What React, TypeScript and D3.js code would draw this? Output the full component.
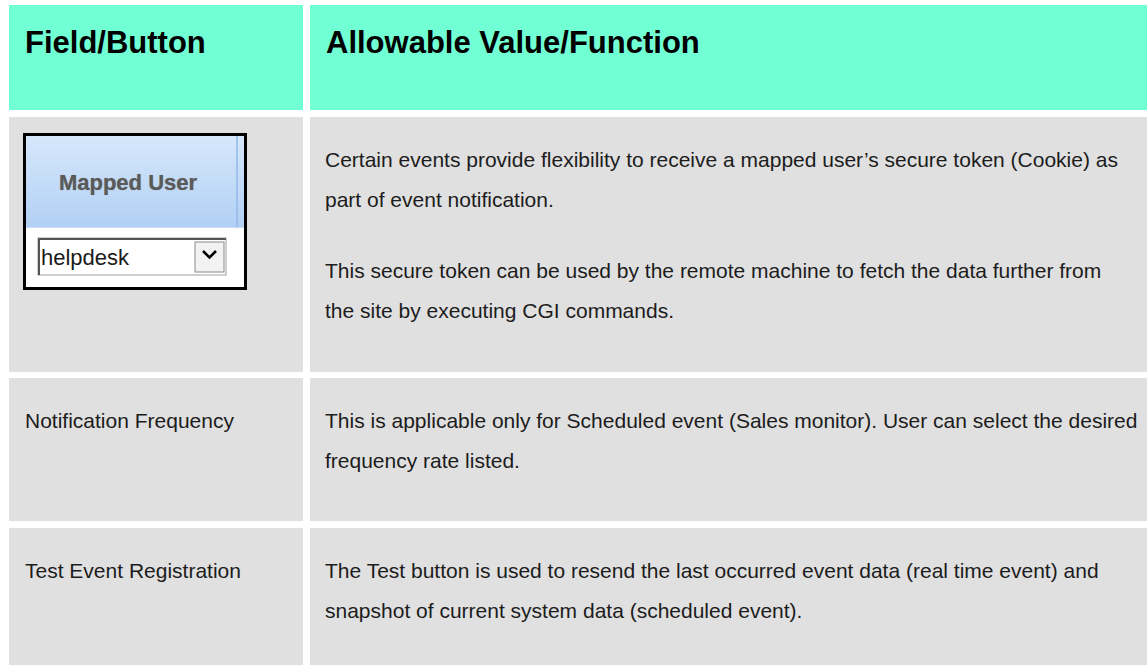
import React, { useEffect, useRef } from "react";
import * as d3 from "d3";

const W = 1147;
const H = 665;

const headers = ["Field/Button", "Allowable Value/Function"];
const fieldLabels = ["", "Notification Frequency", "Test Event Registration"];
const descParagraphs: string[][][] = [
  [
    [
      "Certain events provide flexibility to receive a mapped user\u2019s secure token (Cookie) as",
      "part of event notification.",
    ],
    [
      "This secure token can be used by the remote machine to fetch the data further from",
      "the site by executing CGI commands.",
    ],
  ],
  [
    [
      "This is applicable only for Scheduled event (Sales monitor). User can select the desired",
      "frequency rate listed.",
    ],
  ],
  [
    [
      "The Test button is used to resend the last occurred event data (real time event) and",
      "snapshot of current system data (scheduled event).",
    ],
  ],
];
const widgetHeader = "Mapped User";
const widgetValue = "helpdesk";

// layout
const colEdges = [9, 303, 310, 1147];
const headerBand = [5, 110];
const rowBands: [number, number][] = [
  [117, 372],
  [378, 521],
  [528, 680],
];

export default function App() {
  const ref = useRef<SVGSVGElement>(null);
  useEffect(() => {
    const svg = d3.select(ref.current);
    svg.selectAll("*").remove();
    const font = "'Liberation Sans', Arial, sans-serif";

    svg.append("rect").attr("width", W).attr("height", H).attr("fill", "#ffffff");

    const cols = [
      { x0: colEdges[0], x1: colEdges[1] },
      { x0: colEdges[2], x1: colEdges[3] },
    ];

    // header
    const hg = svg.append("g");
    hg.selectAll("rect")
      .data(headers)
      .join("rect")
      .attr("x", (_, i) => cols[i].x0)
      .attr("y", headerBand[0])
      .attr("width", (_, i) => cols[i].x1 - cols[i].x0)
      .attr("height", headerBand[1] - headerBand[0])
      .attr("fill", "#71FFD4");
    hg.selectAll("text")
      .data(headers)
      .join("text")
      .attr("x", (_, i) => cols[i].x0 + 16)
      .attr("y", headerBand[0] + 48)
      .attr("font-family", font)
      .attr("font-weight", "bold")
      .attr("font-size", 31)
      .attr("fill", "#000")
      .text((d) => d);

    // rows
    const lineH = 40;
    const paraGap = 71;
    rowBands.forEach((band, r) => {
      const g = svg.append("g");
      cols.forEach((c) => {
        g.append("rect")
          .attr("x", c.x0)
          .attr("y", band[0])
          .attr("width", c.x1 - c.x0)
          .attr("height", band[1] - band[0])
          .attr("fill", "#E0E0E0");
      });
      const base = band[0] + 50;
      if (fieldLabels[r]) {
        g.append("text")
          .attr("x", cols[0].x0 + 16)
          .attr("y", base)
          .attr("font-family", font)
          .attr("font-size", 21)
          .attr("fill", "#1c1c1c")
          .text(fieldLabels[r]);
      }
      let y = base;
      descParagraphs[r].forEach((para, pi) => {
        if (pi > 0) y += paraGap - lineH;
        para.forEach((line) => {
          g.append("text")
            .attr("x", cols[1].x0 + 15)
            .attr("y", y)
            .attr("font-family", font)
            .attr("font-size", 21)
            .attr("fill", "#1c1c1c")
            .text(line);
          y += lineH;
        });
      });
    });

    // Mapped User widget
    const wg = svg.append("g");
    const bx0 = 23, by0 = 133, bx1 = 247, by1 = 290, blueBottom = 227;
    const defs = svg.append("defs");
    const grad = defs.append("linearGradient").attr("id", "blueg").attr("x1", 0).attr("x2", 0).attr("y1", 0).attr("y2", 1);
    grad.append("stop").attr("offset", "0%").attr("stop-color", "#d7e8fb");
    grad.append("stop").attr("offset", "100%").attr("stop-color", "#b2d0f5");
    wg.append("rect").attr("x", bx0).attr("y", by0).attr("width", bx1 - bx0).attr("height", by1 - by0).attr("fill", "#ffffff");
    wg.append("rect").attr("x", bx0).attr("y", by0).attr("width", bx1 - bx0).attr("height", blueBottom - by0).attr("fill", "url(#blueg)");
    wg.append("line").attr("x1", 237).attr("x2", 237).attr("y1", by0).attr("y2", blueBottom).attr("stroke", "#93b9e8").attr("stroke-width", 1.5);
    wg.append("line").attr("x1", bx0).attr("x2", bx1).attr("y1", blueBottom + 0.5).attr("y2", blueBottom + 0.5).attr("stroke", "#c9dcf3").attr("stroke-width", 1);
    wg.append("text")
      .attr("x", 128)
      .attr("y", 190)
      .attr("text-anchor", "middle")
      .attr("font-family", font)
      .attr("font-weight", "bold")
      .attr("font-size", 22)
      .attr("fill", "#5a5a5a")
      .attr("style", "text-shadow: 0 0 1px #8a8a8a")
      .text(widgetHeader);
    // select box
    const sx0 = 38, sy0 = 238, sx1 = 226, sy1 = 275;
    wg.append("rect").attr("x", sx0).attr("y", sy0).attr("width", sx1 - sx0).attr("height", sy1 - sy0).attr("fill", "#ffffff").attr("stroke", "#a0a0a0").attr("stroke-width", 1);
    wg.append("path").attr("d", `M${sx0 + 1},${sy1} V${sy0 + 1} H${sx1}`).attr("fill", "none").attr("stroke", "#555").attr("stroke-width", 2);
    wg.append("text")
      .attr("x", 41)
      .attr("y", 265)
      .attr("font-family", font)
      .attr("font-size", 22)
      .attr("fill", "#1a1a1a")
      .text(widgetValue);
    // dropdown button
    wg.append("rect").attr("x", 195).attr("y", 242).attr("width", 29).attr("height", 30).attr("fill", "#f2f2f2").attr("stroke", "#8a8a8a").attr("stroke-width", 1);
    wg.append("path").attr("d", "M203,251 L209.5,257.5 L216,251").attr("fill", "none").attr("stroke", "#000").attr("stroke-width", 2.6);
    // outer border
    wg.append("rect").attr("x", bx0 + 1.5).attr("y", by0 + 1.5).attr("width", bx1 - bx0 - 3).attr("height", by1 - by0 - 3).attr("fill", "none").attr("stroke", "#000").attr("stroke-width", 3);
  }, []);
  return (
    <svg
      ref={ref}
      width={W}
      height={H}
      style={{ position: "absolute", left: 0, top: 0, display: "block" }}
    />
  );
}
